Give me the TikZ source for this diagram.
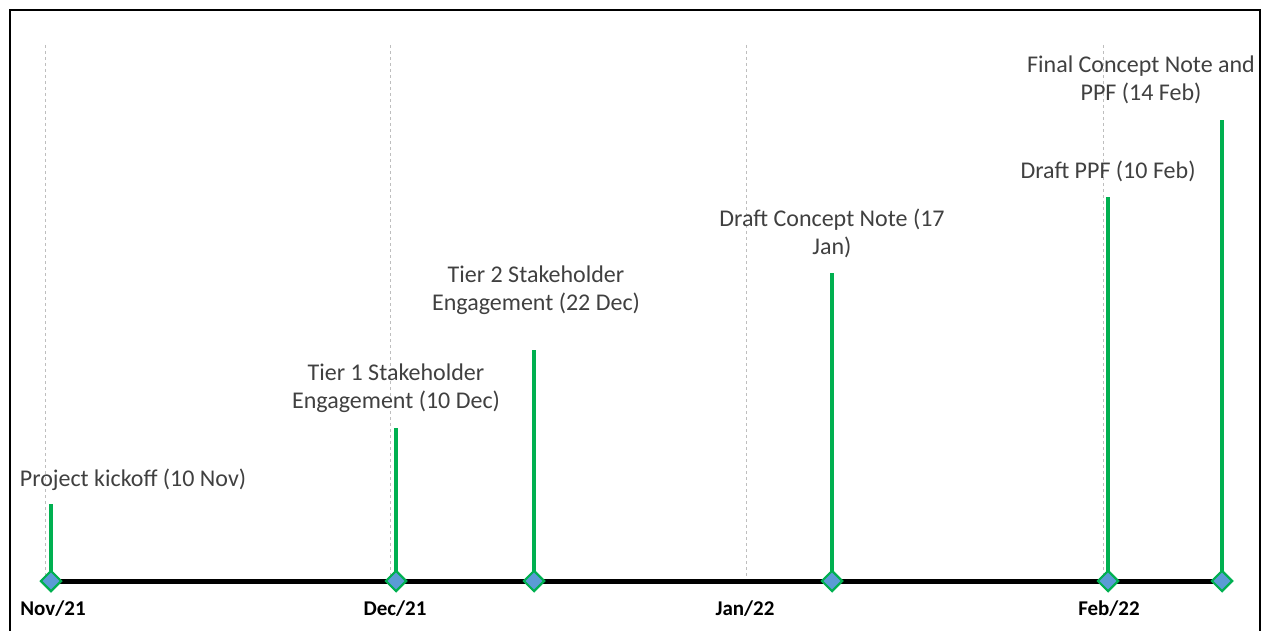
\documentclass[tikz,border=0pt]{standalone}
\usepackage{fontspec}
\setmainfont{Carlito}
\usetikzlibrary{shapes.geometric}
\definecolor{stemgreen}{RGB}{0,176,80}
\definecolor{markblue}{RGB}{91,155,213}
\definecolor{gridgrey}{RGB}{190,190,190}

\begin{document}
\begin{tikzpicture}[x=1pt,y=-1pt,
    milestone/.style={diamond,draw=stemgreen,fill=markblue,line width=2pt,
        minimum width=21pt,minimum height=21pt,inner sep=0pt},
    stem/.style={stemgreen,line width=4pt},
    event/.style={align=center,font=\fontsize{24}{28}\selectfont,text=black!75,inner sep=0pt},
    month/.style={font=\fontsize{21}{24}\selectfont\bfseries,inner sep=0pt},
    grid/.style={gridgrey,dashed,line width=0.8pt}]
    \useasboundingbox (0,0) rectangle (1266,631);
    \draw[line width=1.5pt] (10,631) -- (10,10) -- (1260,10) -- (1260,631);

    % month gridlines
    \coordinate (novtop) at (45,45);   \coordinate (novbot) at (45,581);
    \coordinate (dectop) at (390,45);  \coordinate (decbot) at (390,581);
    \coordinate (jantop) at (746,45);  \coordinate (janbot) at (746,581);
    \coordinate (febtop) at (1103,45); \coordinate (febbot) at (1103,581);
    \draw[grid] (novtop) -- (novbot);
    \draw[grid] (dectop) -- (decbot);
    \draw[grid] (jantop) -- (janbot);
    \draw[grid] (febtop) -- (febbot);

    % axis
    \coordinate (start) at (51,581);
    \coordinate (finish) at (1222,581);
    \draw[line width=5pt] (start) -- (finish);

    % stem tops
    \coordinate (kickofftop) at (51,504);
    \coordinate (tieronetop) at (396,428);
    \coordinate (tiertwotop) at (534,350);
    \coordinate (drafttop) at (832,273);
    \coordinate (ppftop) at (1108,197);
    \coordinate (finaltop) at (1222,120);

    % milestones
    \node[milestone] (kickoff) at (51,581) {};
    \node[milestone] (tierone) at (396,581) {};
    \node[milestone] (tiertwo) at (534,581) {};
    \node[milestone] (draft) at (832,581) {};
    \node[milestone] (ppf) at (1108,581) {};
    \node[milestone] (final) at (1222,581) {};

    \draw[stem] (kickoff.center) -- (kickofftop);
    \draw[stem] (tierone.center) -- (tieronetop);
    \draw[stem] (tiertwo.center) -- (tiertwotop);
    \draw[stem] (draft.center) -- (drafttop);
    \draw[stem] (ppf.center) -- (ppftop);
    \draw[stem] (final.center) -- (finaltop);
    \node[milestone] at (kickoff) {};
    \node[milestone] at (tierone) {};
    \node[milestone] at (tiertwo) {};
    \node[milestone] at (draft) {};
    \node[milestone] at (ppf) {};
    \node[milestone] at (final) {};

    % event labels
    \node[event] (kickofflabel) at (133,480) {Project kickoff (10 Nov)};
    \node[event] (tieronelabel) at (396,388) {Tier 1 Stakeholder\\Engagement (10 Dec)};
    \node[event] (tiertwolabel) at (536,290) {Tier 2 Stakeholder\\Engagement (22 Dec)};
    \node[event] (draftlabel) at (832,233) {Draft Concept Note (17\\Jan)};
    \node[event] (ppflabel) at (1108,171) {Draft PPF (10 Feb)};
    \node[event] (finallabel) at (1141,80) {Final Concept Note and\\PPF (14 Feb)};

    % month labels
    \node[month] (novlabel) at (53,609) {Nov/21};
    \node[month] (declabel) at (395,609) {Dec/21};
    \node[month] (janlabel) at (745,609) {Jan/22};
    \node[month] (feblabel) at (1109,609) {Feb/22};
\end{tikzpicture}
\end{document}
